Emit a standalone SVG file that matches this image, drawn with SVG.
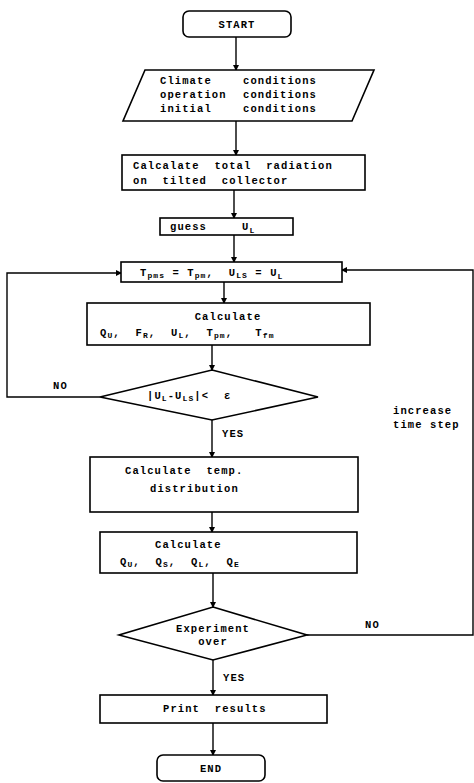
<svg xmlns="http://www.w3.org/2000/svg" width="474" height="783" viewBox="0 0 474 783">
<defs>
<marker id="ah" markerWidth="6" markerHeight="6" refX="5" refY="3" orient="auto" markerUnits="userSpaceOnUse">
<path d="M0,0 L6,3 L0,6 z" fill="#000"/>
</marker>
<style>
.b{fill:#fff;stroke:#000;stroke-width:1.6}
.c{fill:none;stroke:#000;stroke-width:1.4}
text{font-family:"Liberation Mono","DejaVu Sans Mono",monospace;font-weight:bold;font-size:10.5px;fill:#000;letter-spacing:1.1px}
.s{font-size:8px}
</style>
</defs>
<rect width="474" height="783" fill="#fff"/>
<g id="connectors">
<path class="c" d="M236,37 V70" marker-end="url(#ah)"/>
<path class="c" d="M236,121 V155" marker-end="url(#ah)"/>
<path class="c" d="M234,190 V218" marker-end="url(#ah)"/>
<path class="c" d="M234,235 V262" marker-end="url(#ah)"/>
<path class="c" d="M224,282 V303" marker-end="url(#ah)"/>
<path class="c" d="M212,345 V370" marker-end="url(#ah)"/>
<path class="c" d="M100,397 H7 V273 H121" marker-end="url(#ah)"/>
<path class="c" d="M212,420 V457" marker-end="url(#ah)"/>
<path class="c" d="M212,512 V532" marker-end="url(#ah)"/>
<path class="c" d="M213,573 V607" marker-end="url(#ah)"/>
<path class="c" d="M307,635 H473 V270 H342" marker-end="url(#ah)"/>
<path class="c" d="M213,660 V695" marker-end="url(#ah)"/>
<path class="c" d="M213,723 V755" marker-end="url(#ah)"/>
<text x="53" y="389">NO</text>
<text x="222" y="437">YES</text>
<text x="393" y="414">increase</text>
<text x="393" y="428">time step</text>
<text x="365" y="628">NO</text>
<text x="223" y="681">YES</text>
</g>
<g id="start">
<rect class="b" x="183" y="11" width="108" height="26" rx="6"/>
<text x="237" y="28" text-anchor="middle">START</text>
</g>
<g id="input">
<polygon class="b" points="145,70 374,70 352,121 123,121"/>
<text x="160" y="84">Climate</text><text x="243" y="84">conditions</text>
<text x="160" y="98">operation</text><text x="243" y="98">conditions</text>
<text x="160" y="112">initial</text><text x="243" y="112">conditions</text>
</g>
<g id="radiation">
<rect class="b" x="122" y="155" width="243" height="35"/>
<text x="133" y="169" xml:space="preserve">Calcalate  total  radiation</text>
<text x="133" y="184" xml:space="preserve">on  tilted  collector</text>
</g>
<g id="guess">
<rect class="b" x="160" y="218" width="133" height="17"/>
<text x="170" y="230">guess</text>
<text x="242" y="230">U<tspan class="s" dy="3">L</tspan></text>
</g>
<g id="assign">
<rect class="b" x="121" y="262" width="221" height="20"/>
<text x="140" y="276" xml:space="preserve">T<tspan class="s" dy="2">pms</tspan><tspan dy="-2"> = T</tspan><tspan class="s" dy="2">pm</tspan><tspan dy="-2">,  U</tspan><tspan class="s" dy="2">LS</tspan><tspan dy="-2"> = U</tspan><tspan class="s" dy="3">L</tspan></text>
</g>
<g id="calc1">
<rect class="b" x="87" y="303" width="283" height="42"/>
<text x="228" y="320" text-anchor="middle">Calculate</text>
<text x="100" y="336" xml:space="preserve">Q<tspan class="s" dy="2">U</tspan><tspan dy="-2">,  F</tspan><tspan class="s" dy="2">R</tspan><tspan dy="-2">,  U</tspan><tspan class="s" dy="2">L</tspan><tspan dy="-2">,  T</tspan><tspan class="s" dy="2">pm</tspan><tspan dy="-2">,   T</tspan><tspan class="s" dy="2">fm</tspan></text>
</g>
<g id="check1">
<polygon class="b" points="212,370 318,397 212,420 100,397"/>
<text x="147" y="399" xml:space="preserve">|U<tspan class="s" dy="2">L</tspan><tspan dy="-2">-U</tspan><tspan class="s" dy="2">LS</tspan><tspan dy="-2">|&lt;  ε</tspan></text>
</g>
<g id="tempdist">
<rect class="b" x="90" y="457" width="268" height="55"/>
<text x="125" y="474" xml:space="preserve">Calculate  temp.</text>
<text x="150" y="492">distribution</text>
</g>
<g id="calc2">
<rect class="b" x="100" y="532" width="257" height="41"/>
<text x="155" y="548">Calculate</text>
<text x="120" y="565" xml:space="preserve">Q<tspan class="s" dy="2">U</tspan><tspan dy="-2">,  Q</tspan><tspan class="s" dy="2">S</tspan><tspan dy="-2">,  Q</tspan><tspan class="s" dy="2">L</tspan><tspan dy="-2">,  Q</tspan><tspan class="s" dy="2">E</tspan></text>
</g>
<g id="check2">
<polygon class="b" points="213,607 307,635 213,660 119,635"/>
<text x="213" y="632" text-anchor="middle">Experiment</text>
<text x="213" y="645" text-anchor="middle">over</text>
</g>
<g id="print">
<rect class="b" x="100" y="695" width="227" height="28"/>
<text x="163" y="712" xml:space="preserve">Print  results</text>
</g>
<g id="end">
<rect class="b" x="157" y="755" width="108" height="26" rx="6"/>
<text x="211" y="772" text-anchor="middle">END</text>
</g>
</svg>
